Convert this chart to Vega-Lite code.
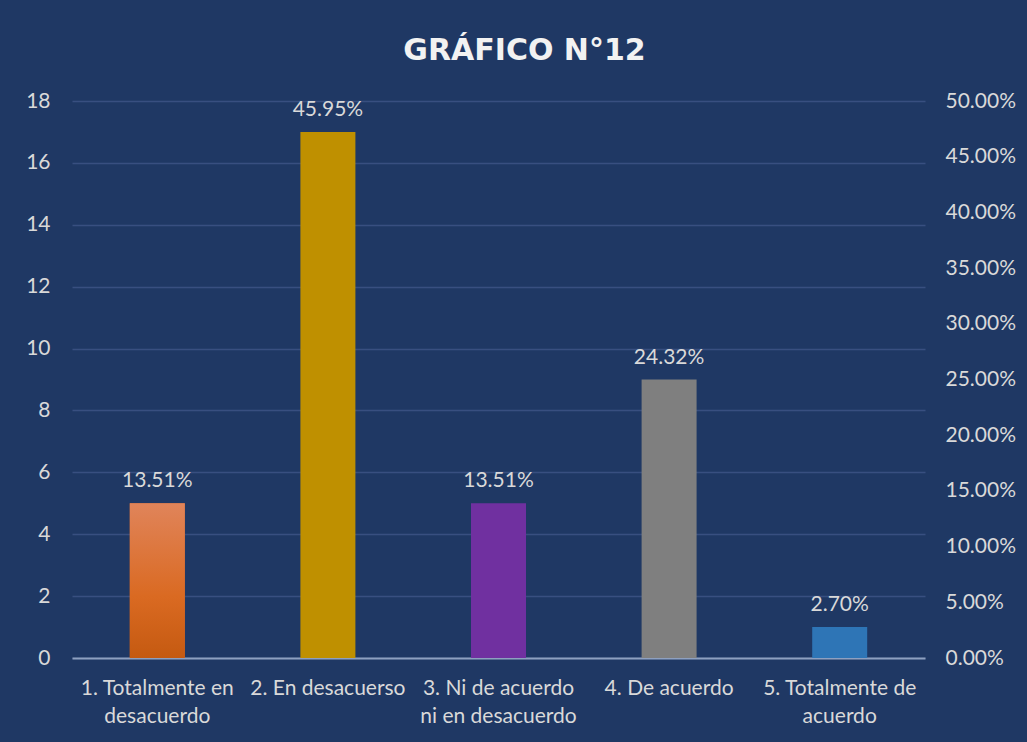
{
  "$schema": "https://vega.github.io/schema/vega-lite/v6.json",
  "width": 853,
  "height": 557,
  "autosize": {"type": "none"},
  "padding": {"left": 72, "top": 101, "right": 102, "bottom": 84},
  "background": "#1F3864",
  "title": {
    "text": "GRÁFICO N°12",
    "font": "DejaVu Sans",
    "fontWeight": "bold",
    "fontSize": 30,
    "color": "#F2F2F2",
    "anchor": "middle",
    "dx": 26,
    "offset": 24
  },
  "config": {
    "view": {"stroke": null},
    "font": "Lato",
    "axis": {"labelFont": "Lato", "labelColor": "#D9D9D9", "labelFontSize": 21, "ticks": false, "domain": false, "title": null}
  },
  "data": {
    "values": [
      {"cat": "1. Totalmente en desacuerdo", "n": 5, "pct": 0.1351},
      {"cat": "2. En desacuerso", "n": 17, "pct": 0.4595},
      {"cat": "3. Ni de acuerdo ni en desacuerdo", "n": 5, "pct": 0.1351},
      {"cat": "4. De acuerdo", "n": 9, "pct": 0.2432},
      {"cat": "5. Totalmente de acuerdo", "n": 1, "pct": 0.027}
    ]
  },
  "encoding": {
    "x": {
      "field": "cat", "type": "nominal", "sort": null,
      "scale": {"paddingInner": 0, "paddingOuter": 0},
      "axis": {
        "labelAngle": 0, "labelPadding": 19, "labelLineHeight": 28, "labelBaseline": "top",
        "domain": true, "domainColor": "#8EA0C0", "domainWidth": 2,
        "labelExpr": "datum.value == '1. Totalmente en desacuerdo' ? ['1. Totalmente en', 'desacuerdo'] : datum.value == '3. Ni de acuerdo ni en desacuerdo' ? ['3. Ni de acuerdo', 'ni en desacuerdo'] : datum.value == '5. Totalmente de acuerdo' ? ['5. Totalmente de', 'acuerdo'] : datum.value"
      }
    }
  },
  "layer": [
    {
      "mark": {"type": "bar", "size": 55},
      "encoding": {
        "y": {
          "field": "n", "type": "quantitative",
          "scale": {"domain": [0, 18]},
          "axis": {"values": [0, 2, 4, 6, 8, 10, 12, 14, 16, 18], "labelPadding": 22, "grid": true, "gridColor": "#384F80", "gridWidth": 1.5}
        },
        "color": {
          "field": "cat", "type": "nominal", "sort": null, "legend": null,
          "scale": {"range": ["#D8692A", "#BF9000", "#7030A0", "#7F7F7F", "#2E75B6"]}
        }
      }
    },
    {
      "transform": [{"filter": "datum.cat == '1. Totalmente en desacuerdo'"}],
      "mark": {
        "type": "bar", "size": 55,
        "fill": {"gradient": "linear", "x1": 0, "y1": 0, "x2": 0, "y2": 1,
          "stops": [{"offset": 0, "color": "#E0845A"}, {"offset": 0.6, "color": "#DA6A22"}, {"offset": 1, "color": "#C55A11"}]}
      },
      "encoding": {
        "y": {"field": "n", "type": "quantitative", "scale": {"domain": [0, 18]}, "axis": null}
      }
    },
    {
      "mark": {"type": "text", "baseline": "bottom", "dy": -12, "fontSize": 21, "color": "#D9D9D9", "font": "Lato"},
      "encoding": {
        "y": {"field": "n", "type": "quantitative", "scale": {"domain": [0, 18]}, "axis": null},
        "text": {"field": "pct", "type": "quantitative", "format": ".2%"}
      }
    },
    {
      "mark": {"type": "tick", "opacity": 0},
      "encoding": {
        "y": {
          "field": "pct", "type": "quantitative",
          "scale": {"domain": [0, 0.5]},
          "axis": {"orient": "right", "format": ".2%", "values": [0, 0.05, 0.1, 0.15, 0.2, 0.25, 0.3, 0.35, 0.4, 0.45, 0.5], "labelPadding": 20, "grid": false}
        }
      }
    }
  ],
  "resolve": {"scale": {"y": "independent"}}
}
